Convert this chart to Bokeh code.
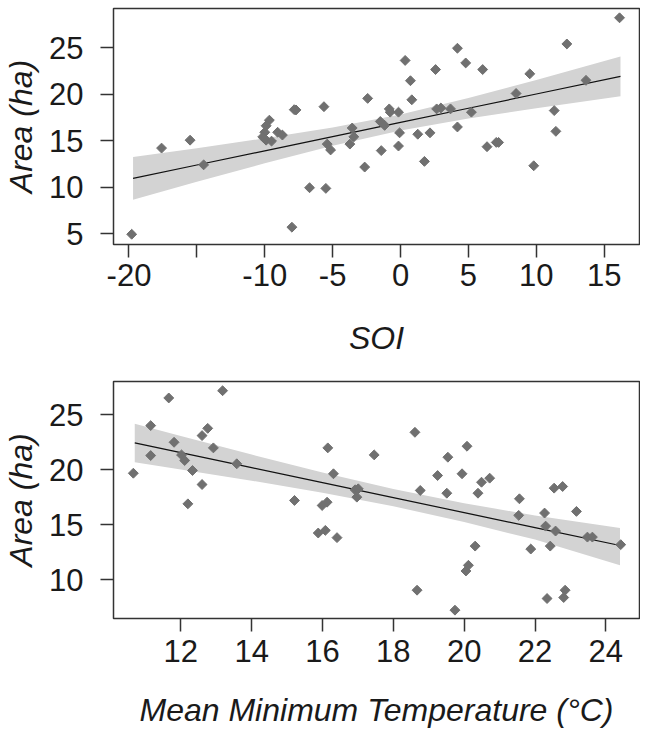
from bokeh.plotting import figure
from bokeh.layouts import column
from bokeh.models import Range1d, FixedTicker
from bokeh.embed import file_html
from bokeh.resources import INLINE
import math

# ---------------- Top panel: SOI vs Area ----------------
soi_x = [-19.8, -17.6, -15.5, -14.5, -9.66, -9.9, -10.0, -10.15, -9.9, -9.5, -9.05, -8.7,
         -7.83, -7.7, -8.0, -6.7, -5.64, -5.5, -5.4, -5.15,
         -3.73, -3.56, -3.44, -2.64, -2.42, -1.49, -1.42, -1.17, -0.83, -0.76, -0.15, -0.15,
         -0.07, 0.34, 0.73, 0.83, 1.27, 1.76, 2.17, 2.58, 2.66, 2.97, 3.68, 4.19, 4.19, 4.8,
         5.22, 6.05, 6.37, 7.05, 7.22, 8.51, 9.52, 9.81, 11.32, 11.44, 12.25, 13.66, 16.13]
soi_area = [4.94, 14.2, 15.05, 12.4, 17.2, 16.6, 15.9, 15.4, 15.05, 14.95, 15.9, 15.6,
            18.33, 18.3, 5.7, 9.94, 18.65, 9.87, 14.63, 14.0,
            14.63, 16.36, 15.41, 12.16, 19.54, 17.06, 13.93, 16.64, 18.41, 18.06, 18.06, 14.42,
            15.84, 23.62, 21.44, 19.39, 15.69, 12.77, 15.84, 22.64, 18.41, 18.51, 18.41, 24.93, 16.47, 23.35,
            18.06, 22.64, 14.35, 14.81, 14.81, 20.07, 22.18, 12.3, 18.23, 16.0, 25.39, 21.48, 28.2]

# fitted line and confidence band
soi_fit_x = [-19.7, -15, -10, -5, 0, 5, 10, 16.2]
soi_fit_y = [10.95, 12.38, 13.91, 15.43, 16.96, 18.48, 20.01, 21.9]
soi_ci_lo = [8.65, 10.57, 12.57, 14.46, 16.10, 17.38, 18.49, 19.76]
soi_ci_hi = [13.25, 14.19, 15.25, 16.40, 17.82, 19.58, 21.53, 24.04]

soi_ticks = [-20, -15, -10, -5, 0, 5, 10, 15]
soi_tick_labels = {-20: "-20", -15: "", -10: "-10", -5: "-5"}
area_ticks_top = [5, 10, 15, 20, 25]

# ---------------- Bottom panel: Temperature vs Area ----------------
tmin_x = [10.66, 11.15, 11.15, 11.66, 11.81, 12.02, 12.11, 12.2, 12.33, 12.6, 12.6, 12.76,
          12.92, 13.18, 13.58, 15.21, 15.88, 16.08, 15.99, 16.13, 16.15, 16.31,
          16.41, 16.92, 16.97, 17.01, 17.46, 18.61, 18.67, 18.76, 19.25, 19.51, 19.54, 19.74,
          19.94, 20.05, 20.12, 20.08, 20.31, 20.39, 20.49, 20.72, 21.56, 21.54, 21.88, 22.27,
          22.3, 22.34, 22.43, 22.54, 22.58, 22.78, 22.85, 22.81, 23.17, 23.48, 23.62, 24.42]
tmin_area = [19.69, 24.03, 21.3, 26.55, 22.51, 21.36, 20.85, 16.9, 19.94, 23.12, 18.66, 23.78,
             22.0, 27.21, 20.55, 17.21, 14.24, 14.48, 16.75, 17.05, 22.0, 19.64,
             13.82, 18.18, 17.51, 18.27, 21.36, 23.42, 9.03, 18.12, 19.48, 17.87, 21.15, 7.21,
             19.64, 10.78, 11.3, 22.15, 13.05, 17.87, 18.87, 19.24, 17.36, 15.85, 12.78, 16.06,
             14.87, 8.27, 13.05, 18.33, 14.42, 18.48, 9.03, 8.36, 16.21, 13.87, 13.87, 13.18]

tmin_fit_x = [10.7, 12, 14, 16, 18, 20, 22, 24.4]
tmin_fit_y = [22.45, 21.56, 20.2, 18.83, 17.47, 16.1, 14.74, 13.1]
tmin_ci_lo = [20.7, 20.03, 19.01, 17.91, 16.68, 15.24, 13.64, 11.3]
tmin_ci_hi = [24.2, 23.09, 21.39, 19.75, 18.26, 16.96, 15.84, 14.7]

temp_ticks = [12, 14, 16, 18, 20, 22, 24]
area_ticks_bot = [10, 15, 20, 25]

FONT = "Liberation Sans"
TXT = "#1a1a1a"
PT = "#707070"
BAND = "#d3d3d3"
FRAME = "#333333"


def style(p, xlabel, ylabel, x_ticks, y_ticks, x_std, title_std):
    p.grid.visible = False
    p.outline_line_color = FRAME
    p.outline_line_width = 1.5
    p.background_fill_color = "white"
    p.border_fill_color = "white"
    for ax in (p.xaxis[0], p.yaxis[0]):
        ax.axis_line_color = None
        ax.major_tick_line_color = FRAME
        ax.major_tick_line_width = 1.5
        ax.major_tick_out = 13
        ax.major_tick_in = 0
        ax.minor_tick_line_color = None
        ax.major_label_text_font = FONT
        ax.major_label_text_font_size = "31px"
        ax.major_label_text_color = TXT
        ax.axis_label_text_font = FONT
        ax.axis_label_text_font_size = "32px"
        ax.axis_label_text_font_style = "italic"
        ax.axis_label_text_color = TXT
    p.xaxis[0].axis_label = xlabel
    p.yaxis[0].axis_label = ylabel
    p.xaxis[0].ticker = FixedTicker(ticks=x_ticks)
    p.yaxis[0].ticker = FixedTicker(ticks=y_ticks)
    p.xaxis[0].major_label_standoff = x_std
    p.xaxis[0].axis_label_standoff = title_std
    p.yaxis[0].major_label_standoff = 17
    p.yaxis[0].axis_label_standoff = 7


# top figure
p1 = figure(width=640, height=358, output_backend="svg", toolbar_location=None,
            x_range=Range1d(-21.14, 17.6), y_range=Range1d(3.84, 29.2),
            min_border_top=8, min_border_right=1, min_border_bottom=0, min_border_left=109)
p1.varea(x=soi_fit_x, y1=soi_ci_lo, y2=soi_ci_hi, fill_color=BAND)
p1.line(x=soi_fit_x, y=soi_fit_y, line_color="#111111", line_width=1.2)
p1.scatter(x=soi_x, y=soi_area, marker="square", size=7, angle=math.pi / 4,
           fill_color=PT, line_color=PT)
style(p1, "SOI", "Area (ha)", soi_ticks, area_ticks_top, 6, 31)
p1.xaxis[0].major_label_overrides = soi_tick_labels

# bottom figure
p2 = figure(width=640, height=372, output_backend="svg", toolbar_location=None,
            x_range=Range1d(10.1, 24.95), y_range=Range1d(6.45, 28.05),
            min_border_top=23, min_border_right=1, min_border_bottom=0, min_border_left=109)
p2.varea(x=tmin_fit_x, y1=tmin_ci_lo, y2=tmin_ci_hi, fill_color=BAND)
p2.line(x=tmin_fit_x, y=tmin_fit_y, line_color="#111111", line_width=1.2)
p2.scatter(x=tmin_x, y=tmin_area, marker="square", size=7, angle=math.pi / 4,
           fill_color=PT, line_color=PT)
style(p2, "Mean Minimum Temperature (°C)", "Area (ha)", temp_ticks, area_ticks_bot, 8, 27)

layout = column(p1, p2, spacing=0)
open("out.html", "w").write(file_html(layout, INLINE))
